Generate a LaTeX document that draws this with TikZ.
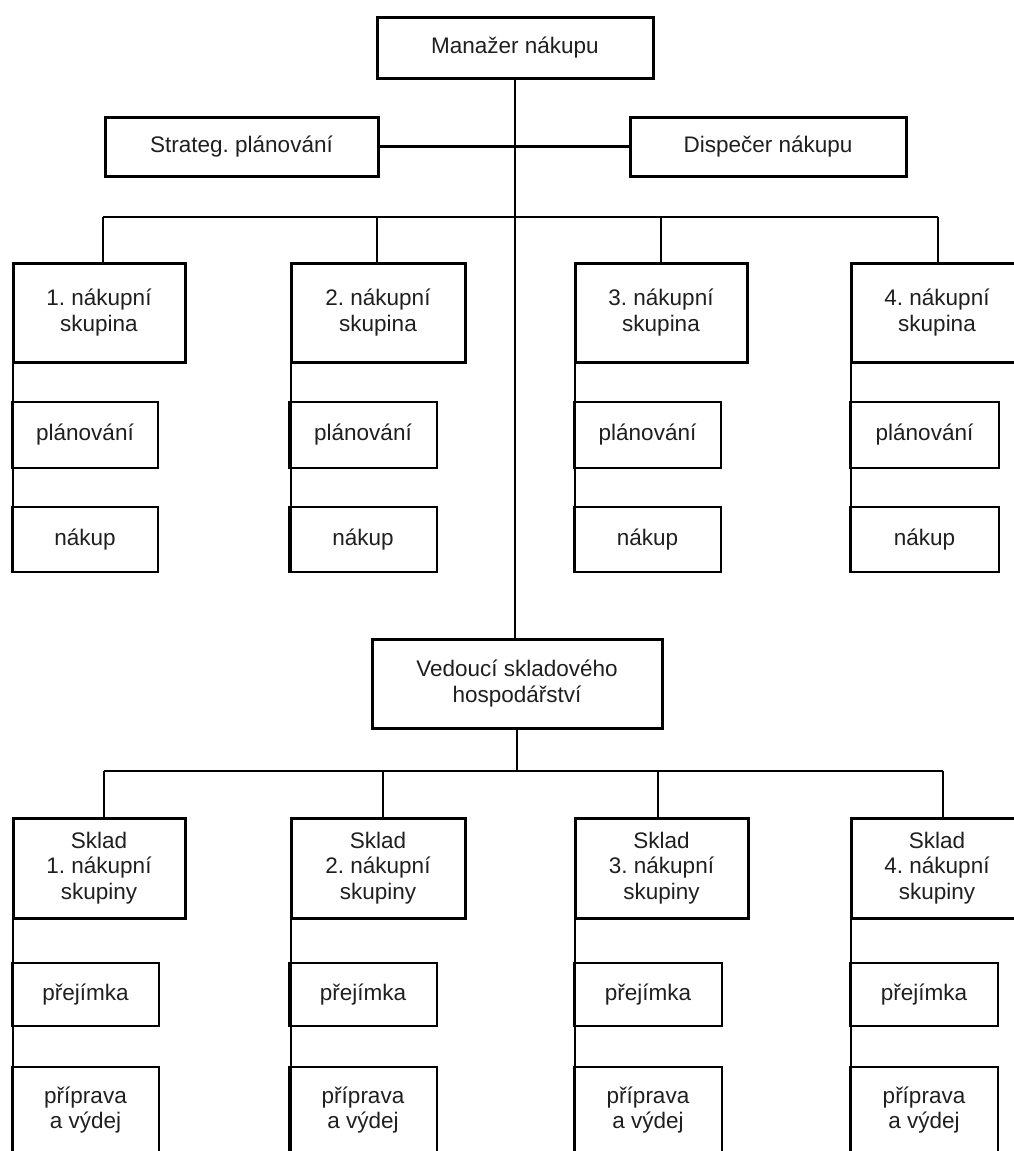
\documentclass[tikz,border=0pt]{standalone}
\usepackage{fontspec}
\setmainfont{Liberation Sans}
\frenchspacing
% box given by its corners: name, x1, y1, x2, y2, style, text
\newcommand\cornerbox[7]{%
  \node[#6, minimum width={#4-#2}, minimum height={#5-#3}]
    (#1) at ({(#2+#4)/2},{(#3+#5)/2}) {#7};}
\begin{document}
\begin{tikzpicture}[x=1pt,y=-1pt,
  txt/.style={inner sep=0pt, outer sep=0pt, align=center, text=black!88,
    font=\fontsize{22.5}{25.5}\selectfont},
  headbox/.style={txt, draw, line width=3pt, fill=white},
  subbox/.style={txt, draw, line width=2pt, fill=white},
  link/.style={line width=2.8pt},
  thinlink/.style={line width=1.6pt}]
\clip (0,0) rectangle (1014,1151);
\fill[white] (0,0) rectangle (1014,1151);

% top management
\cornerbox{mgr}{377}{17}{653}{78}{headbox}{Manažer nákupu}
\cornerbox{strat}{105}{117}{378}{176}{headbox}{Strateg. plánování}
\cornerbox{disp}{630}{117}{906}{176}{headbox}{Dispečer nákupu}
\cornerbox{ved}{372}{639}{662}{728}{headbox}{Vedoucí skladového\\hospodářství}

\draw[link] (mgr.south) -- (mgr.south |- ved.north);
\draw[link] (strat.east) -- (disp.west);

% purchasing groups
\coordinate (busL) at (103,217);
\coordinate (busR) at (938,217);
\draw[link] (busL) -- (busR);
\foreach \i/\l/\r/\sl/\sr/\d in {1/13/185/12/158/103, 2/291/465/289/437/377,
                                3/575/747/574/721/661, 4/851/1023/850/999/938}{
  \cornerbox{g\i}{\l}{263}{\r}{362}{headbox}{\i.~nákupní\\skupina}
  \cornerbox{p\i}{\sl}{402}{\sr}{468}{subbox}{plánování}
  \cornerbox{n\i}{\sl}{507}{\sr}{572}{subbox}{nákup}
  \coordinate (gd\i) at (\d,217);
  \draw[link] (gd\i) -- (gd\i |- g\i.north);
  \draw[thinlink] (g\i.south west) -- (g\i.south west |- n\i.south);
}

% warehouses
\coordinate (wbusL) at (104,771);
\coordinate (wbusR) at (943,771);
\draw[link] (ved.south) -- (ved.south |- wbusL);
\draw[link] (wbusL) -- (wbusR);
\foreach \i/\l/\r/\sl/\sr/\d in {1/13/185/12/159/104, 2/291/465/289/437/383,
                                3/575/748/574/722/658, 4/851/1023/850/998/943}{
  \cornerbox{s\i}{\l}{818}{\r}{918}{headbox}{Sklad\\\i.~nákupní\\skupiny}
  \cornerbox{r\i}{\sl}{963}{\sr}{1026}{subbox}{přejímka}
  \cornerbox{v\i}{\sl}{1067}{\sr}{1153}{subbox}{příprava\\a výdej}
  \coordinate (sd\i) at (\d,771);
  \draw[link] (sd\i) -- (sd\i |- s\i.north);
  \draw[thinlink] (s\i.south west) -- (s\i.south west |- v\i.south);
}
\end{tikzpicture}
\end{document}
